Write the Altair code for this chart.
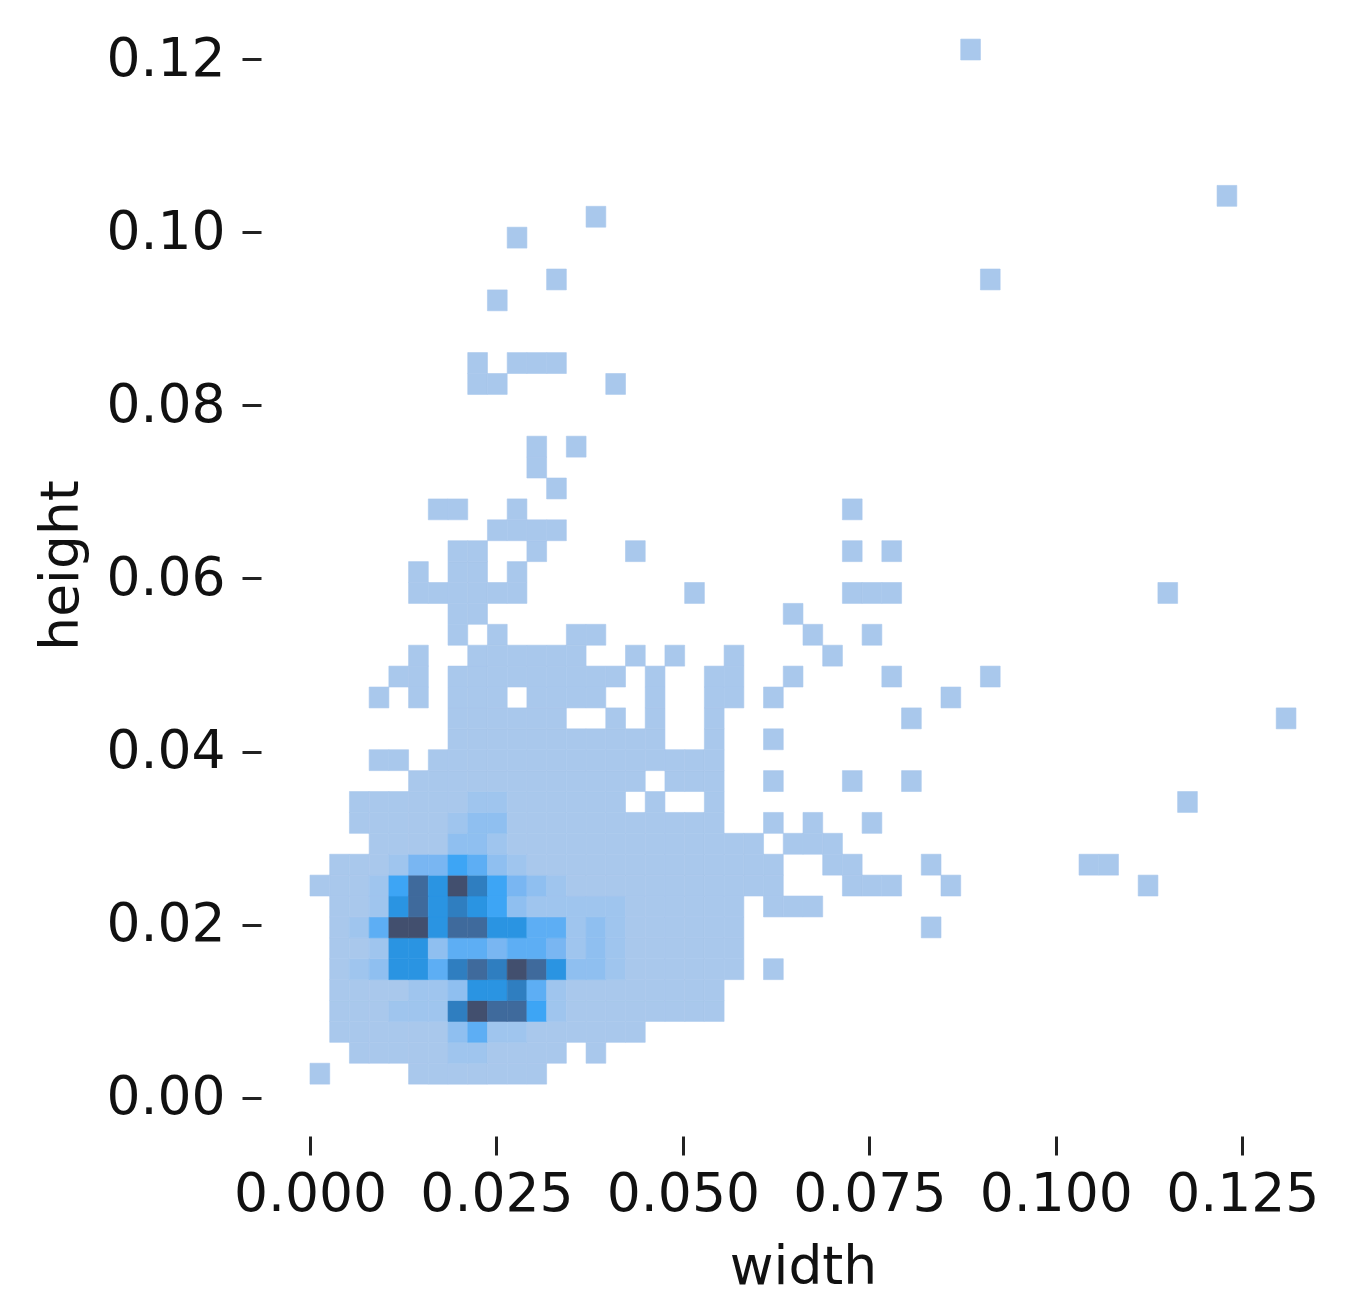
import altair as alt
import numpy as np
import pandas as pd

# 2-D histogram: 50 x 50 bins
N_BINS = 50
width_edges = np.linspace(0.0, 0.1322, N_BINS + 1)
height_edges = np.linspace(0.0016, 0.1223, N_BINS + 1)

x_ticks = [0.0, 0.025, 0.05, 0.075, 0.1, 0.125]
y_ticks = [0.0, 0.02, 0.04, 0.06, 0.08, 0.1, 0.12]

# occupied bins per height row: (first width bin, last width bin), lightest shade
occupied = {
    0: [(0, 0), (5, 11)],
    1: [(2, 12), (14, 14)],
    2: [(1, 16)],
    3: [(1, 20)],
    4: [(1, 20)],
    5: [(1, 21), (23, 23)],
    6: [(1, 21)],
    7: [(1, 21), (31, 31)],
    8: [(1, 21), (23, 25)],
    9: [(0, 23), (27, 29), (32, 32), (42, 42)],
    10: [(1, 23), (26, 27), (31, 31), (39, 40)],
    11: [(3, 22), (24, 26)],
    12: [(2, 20), (23, 23), (25, 25), (28, 28)],
    13: [(2, 15), (17, 17), (20, 20), (44, 44)],
    14: [(5, 16), (18, 20), (23, 23), (27, 27), (30, 30)],
    15: [(3, 4), (6, 20)],
    16: [(7, 17), (20, 20), (23, 23)],
    17: [(7, 12), (15, 15), (17, 17), (20, 20), (30, 30), (49, 49)],
    18: [(3, 3), (5, 5), (7, 9), (11, 14), (17, 17), (20, 21), (23, 23), (32, 32)],
    19: [(4, 5), (7, 15), (17, 17), (20, 21), (24, 24), (29, 29), (34, 34)],
    20: [(5, 5), (8, 13), (16, 16), (18, 18), (21, 21), (26, 26)],
    21: [(7, 7), (9, 9), (13, 14), (25, 25), (28, 28)],
    22: [(7, 8), (24, 24)],
    23: [(5, 10), (19, 19), (27, 29), (43, 43)],
    24: [(5, 5), (7, 8), (10, 10)],
    25: [(7, 8), (11, 11), (16, 16), (27, 27), (29, 29)],
    26: [(9, 12)],
    27: [(6, 7), (10, 10), (27, 27)],
    28: [(12, 12)],
    29: [(11, 11)],
    30: [(11, 11), (13, 13)],
    33: [(8, 9), (15, 15)],
    34: [(8, 8), (10, 12)],
    37: [(9, 9)],
    38: [(12, 12), (34, 34)],
    40: [(10, 10)],
    41: [(14, 14)],
    42: [(46, 46)],
    49: [(33, 33)],
}

# denser bins per height row: first width bin, then shade levels from it
dense = {
    1: (7, [2, 2]),
    2: (7, [3, 5, 2, 2]),
    3: (4, [2, 2, 2, 8, 10, 9, 9, 6, 2]),
    4: (5, [2, 2, 3, 7, 7, 8, 5, 2]),
    5: (2, [2, 3, 7, 7, 5, 8, 9, 8, 10, 9, 7, 3, 3, 2]),
    6: (3, [2, 7, 7, 3, 5, 5, 4, 5, 5, 4, 2, 3, 2]),
    7: (2, [2, 5, 10, 10, 7, 9, 9, 7, 7, 5, 5, 2, 3, 2]),
    8: (3, [2, 7, 9, 7, 8, 7, 6, 3, 2, 2, 2, 2, 2]),
    9: (3, [2, 6, 9, 7, 10, 8, 6, 4, 3, 2, 1, 1, 1]),
    10: (4, [2, 4, 4, 6, 5, 3, 2]),
    11: (7, [3, 3, 2]),
    12: (7, [2, 3, 3]),
    13: (8, [2, 2]),
}

shade_levels = [1, 2, 3, 4, 5, 6, 7, 8, 9, 10]
shade_colors = ["#A9C8EC", "#9FC5EE", "#8FBFF0", "#79B6F2", "#5DAEF4",
                "#3DA5F5", "#2A94E2", "#2F7EC0", "#3F6A9C", "#424F6E"]

rows = []
for row, runs in occupied.items():
    levels = {}
    for first, last in runs:
        for col in range(first, last + 1):
            levels[col] = 1
    if row in dense:
        start, shades = dense[row]
        for offset, shade in enumerate(shades):
            levels[start + offset] = shade
    for col, level in levels.items():
        rows.append({
            "x0": width_edges[col], "x1": width_edges[col + 1],
            "y0": height_edges[row], "y1": height_edges[row + 1],
            "level": level,
        })
df = pd.DataFrame(rows)

FONT = "DejaVu Sans"
x_axis = alt.Axis(
    values=x_ticks, format=".3f", title="width", grid=False, domain=False,
    tickSize=19, tickWidth=3, tickColor="#222222", labelFont=FONT, labelFontSize=53.5,
    labelColor="#111111", labelPadding=13, labelOverlap=False, labelFlush=False,
    titleFont=FONT, titleFontSize=53.5, titleFontWeight="normal", titleColor="#111111",
    titlePadding=21, titleX=542,
)
y_axis = alt.Axis(
    values=y_ticks, format=".2f", title="height", grid=False, domain=False,
    tickSize=19, tickWidth=3, tickColor="#222222", labelFont=FONT, labelFontSize=53.5,
    labelColor="#111111", labelPadding=17, labelOverlap=False, labelFlush=False,
    titleFont=FONT, titleFontSize=53.5, titleFontWeight="normal", titleColor="#111111",
    titleX=-173, titleY=535,
)
shade_scale = alt.Scale(domain=shade_levels, range=shade_colors)

chart = (
    alt.Chart(df)
    .mark_rect(strokeWidth=0.6)
    .encode(
        x=alt.X("x0:Q", axis=x_axis, scale=alt.Scale(domain=[-0.00657, 0.13556], nice=False, zero=False)),
        x2="x1:Q",
        y=alt.Y("y0:Q", axis=y_axis, scale=alt.Scale(domain=[-0.00439, 0.12335], nice=False, zero=False)),
        y2="y1:Q",
        color=alt.Color("level:Q", legend=None, scale=shade_scale),
        stroke=alt.Stroke("level:Q", legend=None, scale=shade_scale),
    )
    .properties(
        width=1060, height=1106,
        padding={"left": 253, "top": 22, "right": 0, "bottom": 166},
        autosize=alt.AutoSizeParams(type="none"),
    )
    .configure_view(stroke=None)
)

chart.save("out.html", embed_options={"renderer": "svg", "actions": False})
